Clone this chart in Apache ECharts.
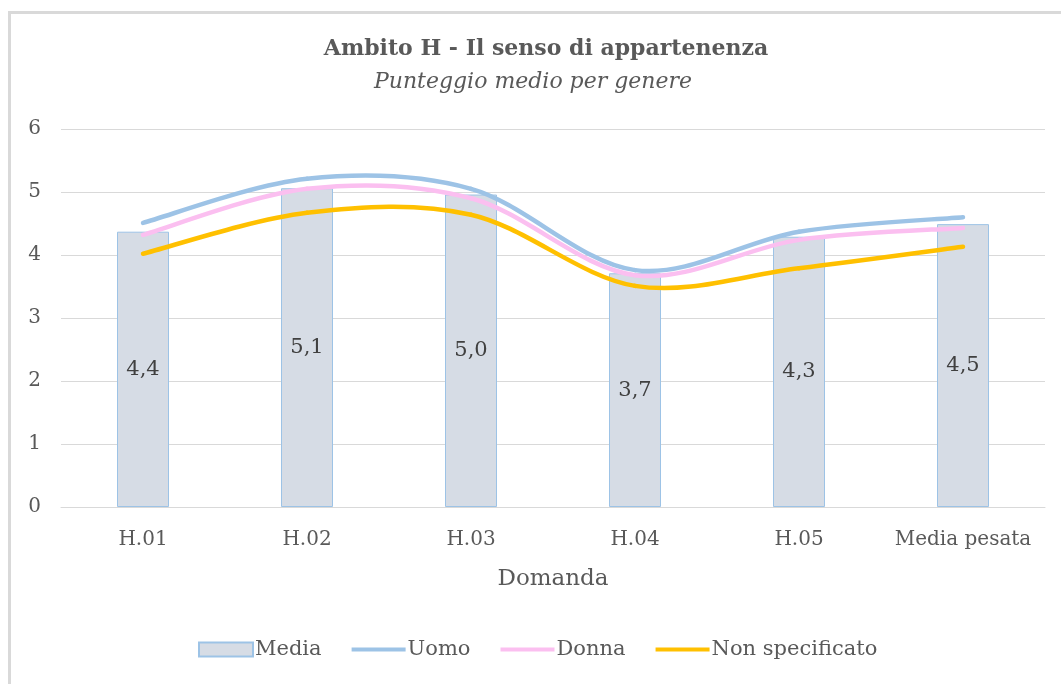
<!DOCTYPE html>
<html>
<head>
<meta charset="utf-8">
<script src="https://cdn.jsdelivr.net/npm/echarts@6/dist/echarts.min.js"></script>
<style>
  html, body { margin: 0; padding: 0; background: #fff; }
  .frame {
    position: absolute;
    left: 8px;
    top: 11px;
    width: 1100px;
    height: 720px;
    border: 3px solid #d9d9d9;
  }
  #main {
    position: absolute;
    left: 0;
    top: 0;
    width: 1061px;
    height: 684px;
  }
</style>
</head>
<body>
<div class="frame"></div>
<div id="main"></div>
<script>
const categories = ["H.01", "H.02", "H.03", "H.04", "H.05", "Media pesata"];
const media = [4.37, 5.06, 4.96, 3.71, 4.29, 4.49];
const uomo = [4.51, 5.21, 5.05, 3.76, 4.37, 4.6];
const donna = [4.32, 5.05, 4.9, 3.68, 4.24, 4.43];
const nonSpecificato = [4.02, 4.67, 4.64, 3.51, 3.79, 4.13];
const yTicks = [0, 1, 2, 3, 4, 5, 6];

const serif = "DejaVu Serif";
const textGray = "#595959";

const chart = echarts.init(document.getElementById("main"));

// smooth line like Excel: catmull-rom style bezier between the data points
const curveSeries = (name, values, color) => ({
  name: name,
  type: "custom",
  data: values.map((v, i) => [i, v]),
  encode: { x: 0, y: 1 },
  itemStyle: { color: color },
  z: 3,
  renderItem: (params, api) => {
    const i = params.dataIndex;
    if (i >= values.length - 1) return null;
    const p = (k) => {
      const kk = Math.max(0, Math.min(values.length - 1, k));
      return api.coord([kk, values[kk]]);
    };
    const p0 = p(i - 1), p1 = p(i), p2 = p(i + 1), p3 = p(i + 2);
    return {
      type: "bezierCurve",
      shape: {
        x1: p1[0], y1: p1[1],
        x2: p2[0], y2: p2[1],
        cpx1: p1[0] + (p2[0] - p0[0]) / 6,
        cpy1: p1[1] + (p2[1] - p0[1]) / 6,
        cpx2: p2[0] - (p3[0] - p1[0]) / 6,
        cpy2: p2[1] - (p3[1] - p1[1]) / 6,
      },
      style: { stroke: color, lineWidth: 4.5, fill: null, lineCap: "round" },
    };
  },
});

const lineIcon = "path://M0,0 L54,0 L54,4 L0,4 Z";

const option = {
  backgroundColor: "transparent",
  animation: false,
  title: [
    {
      text: "Ambito H - Il senso di appartenenza",
      left: 541,
      top: 33,
      textAlign: "center",
      textStyle: { fontFamily: serif, fontSize: 22, fontWeight: "bold", color: textGray },
    },
    {
      text: "Punteggio medio per genere",
      left: 528,
      top: 66,
      textAlign: "center",
      textStyle: { fontFamily: serif, fontSize: 22, fontStyle: "italic", fontWeight: "normal", color: textGray },
    },
  ],
  legend: {
    bottom: 19,
    left: 193,
    itemGap: 30,
    itemWidth: 54,
    itemHeight: 14,
    symbolKeepAspect: true,
    textStyle: { fontFamily: serif, fontSize: 21, color: textGray, padding: [0, 0, 0, -3] },
    data: [
      { name: "Media", icon: "rect" },
      { name: "Uomo", icon: lineIcon },
      { name: "Donna", icon: lineIcon },
      { name: "Non specificato", icon: lineIcon },
    ],
  },
  grid: {
    left: 61,
    right: 16,
    top: 129,
    bottom: 177,
  },
  xAxis: {
    type: "category",
    data: categories,
    name: "Domanda",
    nameLocation: "middle",
    nameGap: 61,
    nameTextStyle: { fontFamily: serif, fontSize: 23, color: textGray },
    axisLine: { lineStyle: { color: "#d9d9d9", width: 1 } },
    axisTick: { show: false },
    axisLabel: { fontFamily: serif, fontSize: 20, color: textGray, margin: 23, interval: 0 },
  },
  yAxis: {
    type: "value",
    min: yTicks[0],
    max: yTicks[yTicks.length - 1],
    interval: 1,
    axisLine: { show: false },
    axisTick: { show: false },
    axisLabel: { fontFamily: serif, fontSize: 20, color: textGray, margin: 20 },
    splitLine: { lineStyle: { color: "#d9d9d9", width: 1 } },
  },
  series: [
    {
      name: "Media",
      type: "bar",
      data: media,
      barWidth: 52,
      itemStyle: { color: "#d6dce5", borderColor: "#9dc3e6", borderWidth: 1 },
      label: {
        show: true,
        position: "inside",
        fontFamily: serif,
        fontSize: 21,
        color: "#404040",
        formatter: (p) => p.value.toFixed(1).replace(".", ","),
      },
      z: 2,
    },
    curveSeries("Uomo", uomo, "#9dc3e6"),
    curveSeries("Donna", donna, "#fbbff0"),
    curveSeries("Non specificato", nonSpecificato, "#ffc000"),
  ],
};

chart.setOption(option);
</script>
</body>
</html>
